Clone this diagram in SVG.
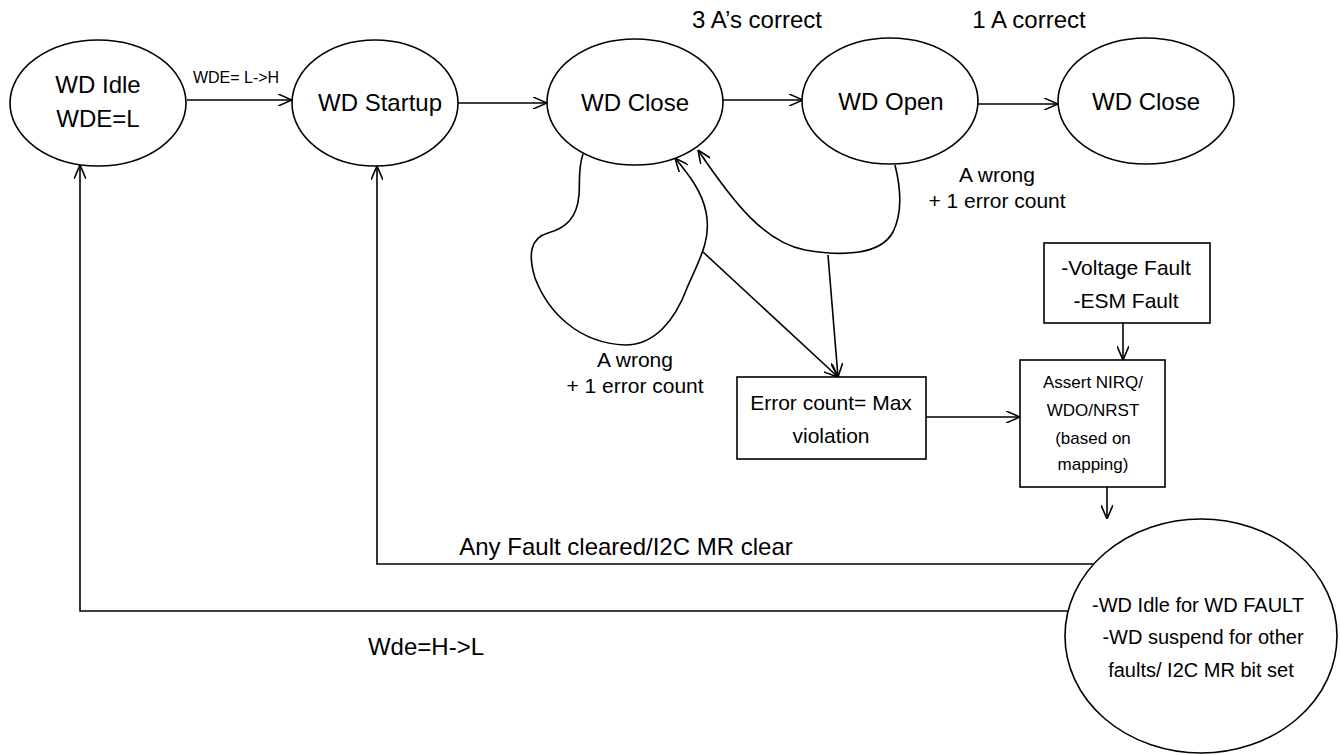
<svg xmlns="http://www.w3.org/2000/svg" width="1340" height="755" viewBox="0 0 1340 755">
<style>
.n{fill:#fff;stroke:#000;stroke-width:1.6}
.c{fill:none;stroke:#000;stroke-width:1.6}
text{font-family:"Liberation Sans",Arial,sans-serif;fill:#000;text-anchor:middle}
.big{font-size:24px}
.lbl{font-size:21px}
.sm{font-size:17px}
.f{font-size:20px}
</style>
<defs>
<marker id="a" viewBox="0 0 14 12" refX="14" refY="6" markerWidth="14" markerHeight="12" markerUnits="userSpaceOnUse" orient="auto">
<path d="M0,0 L14,6 L0,12" fill="none" stroke="#000" stroke-width="1.6"/>
</marker>
</defs>
<rect width="1340" height="755" fill="#fff"/>
<g id="connectors">
<line class="c" x1="187" y1="100" x2="292" y2="100" marker-end="url(#a)"/>
<line class="c" x1="458" y1="103" x2="547" y2="103" marker-end="url(#a)"/>
<line class="c" x1="723" y1="100" x2="803" y2="100" marker-end="url(#a)"/>
<line class="c" x1="978" y1="104" x2="1058" y2="104" marker-end="url(#a)"/>
<path class="c" d="M583,154 C578,168 580,182 579,195 C577,218 566,228 548,233 C530,238 528,255 535,278 C548,312 578,343 625,345 C655,345 675,320 687,288 C698,262 712,240 706,212 C702,192 690,176 675,158" marker-end="url(#a)"/>
<path class="c" d="M895,165 C900,185 903,212 893,232 C880,256 840,256 805,250 C765,242 735,205 698,150" marker-end="url(#a)"/>
<line class="c" x1="703" y1="252" x2="838" y2="377" marker-end="url(#a)"/>
<line class="c" x1="828" y1="255" x2="838" y2="377" marker-end="url(#a)"/>
<line class="c" x1="1123" y1="323" x2="1123" y2="360" marker-end="url(#a)"/>
<line class="c" x1="926" y1="417" x2="1020" y2="417" marker-end="url(#a)"/>
<line class="c" x1="1107" y1="487" x2="1107" y2="519" marker-end="url(#a)"/>
<path class="c" d="M1094,564 H377 V166" marker-end="url(#a)"/>
<path class="c" d="M1068,611 H80 V165" marker-end="url(#a)"/>
<text x="236" y="83" style="font-size:16px">WDE= L-&gt;H</text>
<text class="big" x="757" y="28">3 A’s correct</text>
<text class="big" x="1029" y="28">1 A correct</text>
<text class="lbl" x="997" y="182">A wrong</text>
<text class="lbl" x="997" y="208">+ 1 error count</text>
<text class="lbl" x="635" y="367">A wrong</text>
<text class="lbl" x="635" y="393">+ 1 error count</text>
<text class="big" x="626" y="555">Any Fault cleared/I2C MR clear</text>
<text class="big" x="426" y="655">Wde=H-&gt;L</text>
</g>
<g id="wd-idle">
<ellipse class="n" cx="98" cy="103" rx="88" ry="63"/>
<text class="big" x="98" y="93">WD Idle</text>
<text class="big" x="98" y="127">WDE=L</text>
</g>
<g id="wd-startup">
<ellipse class="n" cx="375" cy="103" rx="83" ry="63"/>
<text class="big" x="380" y="111">WD Startup</text>
</g>
<g id="wd-close-1">
<ellipse class="n" cx="635" cy="102" rx="88" ry="63"/>
<text class="big" x="635" y="111">WD Close</text>
</g>
<g id="wd-open">
<ellipse class="n" cx="890" cy="101" rx="88" ry="63"/>
<text class="big" x="891" y="110">WD Open</text>
</g>
<g id="wd-close-2">
<ellipse class="n" cx="1146" cy="101" rx="88" ry="63"/>
<text class="big" x="1146" y="110">WD Close</text>
</g>
<g id="error-max">
<rect class="n" x="737" y="377" width="189" height="82"/>
<text class="lbl" x="831" y="410">Error count= Max</text>
<text class="lbl" x="831" y="443">violation</text>
</g>
<g id="faults">
<rect class="n" x="1044" y="243" width="166" height="80"/>
<text class="lbl" x="1126" y="275">-Voltage Fault</text>
<text class="lbl" x="1126" y="308">-ESM Fault</text>
</g>
<g id="assert">
<rect class="n" x="1020" y="360" width="145" height="127"/>
<text class="sm" x="1093" y="388">Assert NIRQ/</text>
<text class="sm" x="1093" y="416">WDO/NRST</text>
<text class="sm" x="1093" y="444">(based on</text>
<text class="sm" x="1093" y="470">mapping)</text>
</g>
<g id="wd-fault-state">
<ellipse class="n" cx="1201" cy="636" rx="136" ry="117"/>
<text class="f" x="1198" y="612">-WD Idle for WD FAULT</text>
<text class="f" x="1203" y="644">-WD suspend for other</text>
<text class="f" x="1201" y="677">faults/ I2C MR bit set</text>
</g>
</svg>
